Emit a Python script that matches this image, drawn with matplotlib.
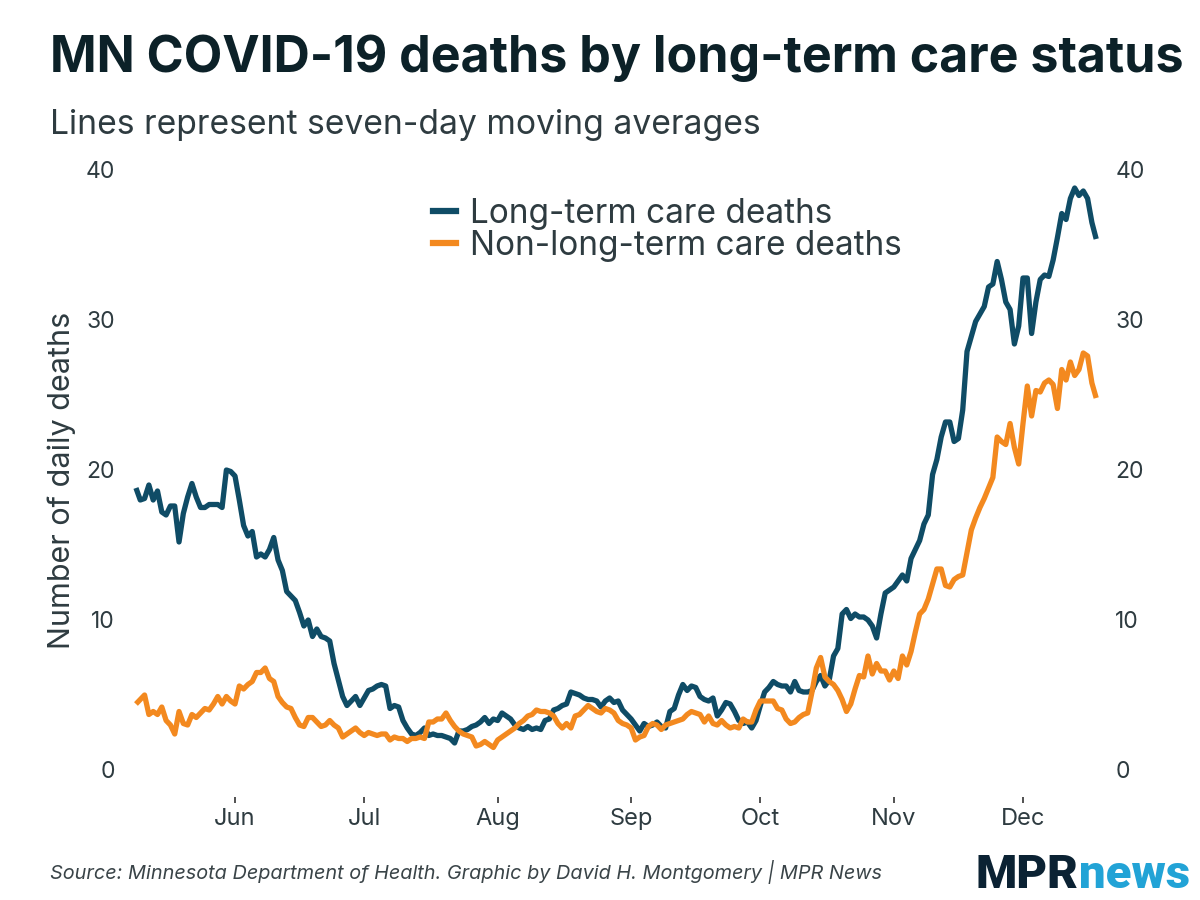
import matplotlib
matplotlib.use("Agg")
import matplotlib.pyplot as plt
import matplotlib.dates as mdates
from matplotlib.lines import Line2D
import pandas as pd
import numpy as np

start_date = "2020-05-09"

ltc_deaths = [
    18.8, 18.0, 18.1, 19.0, 18.0, 18.6, 17.2, 17.0, 17.6, 17.6,
    15.2, 17.1, 18.2, 19.1, 18.2, 17.5, 17.5, 17.7, 17.7, 17.7,
    17.5, 20.0, 19.9, 19.6, 18.0, 16.3, 15.6, 15.9, 14.2, 14.4,
    14.2, 14.7, 15.5, 14.0, 13.3, 11.9, 11.6, 11.3, 10.5, 9.6,
    10.0, 8.9, 9.4, 8.9, 8.8, 8.6, 7.1, 6.0, 4.9, 4.3,
    4.6, 4.9, 4.3, 4.8, 5.3, 5.4, 5.6, 5.7, 5.6, 4.1,
    4.3, 4.2, 3.3, 2.8, 2.4, 2.3, 2.5, 2.8, 2.3, 2.4,
    2.3, 2.3, 2.2, 2.1, 1.8, 2.6, 2.6, 2.7, 2.9, 3.0,
    3.2, 3.5, 3.1, 3.4, 3.3, 3.8, 3.6, 3.4, 3.0, 2.8,
    2.7, 2.9, 2.7, 2.8, 2.7, 3.3, 3.4, 4.0, 4.1, 4.3,
    4.4, 5.2, 5.1, 5.0, 4.8, 4.7, 4.7, 4.6, 4.2, 4.6,
    4.8, 4.5, 4.6, 4.0, 3.7, 3.4, 3.0, 2.6, 3.1, 2.9,
    3.0, 3.2, 2.9, 2.8, 3.9, 4.1, 5.0, 5.7, 5.3, 5.6,
    5.5, 4.9, 4.7, 4.6, 4.8, 3.6, 4.0, 4.5, 4.4, 3.9,
    3.3, 3.1, 3.2, 2.8, 3.3, 4.3, 5.2, 5.5, 5.9, 5.7,
    5.6, 5.6, 5.2, 5.9, 5.3, 5.2, 5.2, 5.3, 5.9, 6.3,
    5.6, 6.0, 7.6, 8.1, 10.4, 10.7, 10.1, 10.4, 10.2, 10.2,
    10.0, 9.6, 8.8, 10.4, 11.8, 12.0, 12.2, 12.6, 13.0, 12.6,
    14.1, 14.7, 15.3, 16.4, 17.0, 19.7, 20.7, 22.2, 23.2, 23.2,
    21.9, 22.1, 24.0, 27.9, 28.9, 29.9, 30.4, 30.9, 32.2, 32.4,
    33.9, 32.7, 31.2, 30.7, 28.4, 29.6, 32.8, 32.8, 29.1, 31.2,
    32.7, 33.0, 32.9, 34.0, 35.5, 37.1, 36.7, 38.1, 38.8, 38.3,
    38.6, 38.1, 36.5, 35.4,
]

non_ltc_deaths = [
    4.4, 4.7, 5.0, 3.7, 3.9, 3.7, 4.2, 3.3, 3.0, 2.4,
    3.9, 3.1, 3.0, 3.7, 3.5, 3.8, 4.1, 4.0, 4.4, 4.9,
    4.4, 4.9, 4.6, 4.4, 5.6, 5.4, 5.7, 5.9, 6.5, 6.5,
    6.8, 6.1, 5.9, 4.9, 4.5, 4.2, 4.1, 3.5, 3.0, 2.9,
    3.5, 3.5, 3.2, 2.9, 3.0, 3.3, 3.0, 2.8, 2.2, 2.4,
    2.6, 2.8, 2.5, 2.3, 2.5, 2.4, 2.3, 2.4, 2.4, 2.0,
    2.2, 2.1, 2.1, 1.9, 2.1, 2.1, 2.2, 2.1, 3.2, 3.2,
    3.4, 3.4, 3.8, 3.3, 2.9, 2.6, 2.4, 2.3, 2.2, 1.6,
    1.7, 1.9, 1.7, 1.5, 2.0, 2.2, 2.4, 2.6, 2.8, 3.1,
    3.3, 3.6, 3.7, 4.0, 3.9, 3.9, 3.8, 3.6, 3.1, 2.8,
    3.1, 2.8, 3.6, 3.7, 4.0, 4.3, 4.1, 3.9, 3.8, 4.1,
    4.0, 3.8, 3.3, 3.1, 3.0, 2.8, 2.0, 2.2, 2.3, 2.9,
    3.1, 3.0, 2.7, 3.0, 3.1, 3.2, 3.3, 3.4, 3.7, 3.9,
    3.8, 3.7, 3.2, 3.6, 3.1, 3.0, 3.3, 3.0, 2.8, 2.9,
    2.8, 3.4, 3.2, 3.2, 4.0, 4.6, 4.6, 4.6, 4.6, 4.1,
    4.0, 3.4, 3.1, 3.2, 3.5, 3.7, 3.8, 5.2, 6.8, 7.5,
    6.2, 5.9, 5.7, 5.3, 4.7, 3.9, 4.4, 5.4, 6.3, 6.2,
    7.6, 6.4, 7.1, 6.6, 6.6, 6.0, 6.6, 6.1, 7.6, 7.0,
    7.9, 9.2, 10.4, 10.7, 11.4, 12.4, 13.4, 13.4, 12.3, 12.2,
    12.7, 12.9, 13.0, 14.5, 16.0, 16.8, 17.5, 18.1, 18.8, 19.5,
    22.2, 21.9, 21.7, 23.1, 21.5, 20.4, 23.1, 25.6, 23.6, 25.3,
    25.2, 25.8, 26.0, 25.7, 24.1, 26.7, 26.0, 27.2, 26.3, 26.7,
    27.8, 27.6, 25.8, 24.8,
]

series_labels = ["Long-term care deaths", "Non-long-term care deaths"]
month_labels = ["Jun", "Jul", "Aug", "Sep", "Oct", "Nov", "Dec"]
y_ticks = [0, 10, 20, 30, 40]

n = min(len(ltc_deaths), len(non_ltc_deaths))
dates = pd.date_range(start_date, periods=n, freq="D")

BLUE = "#0f4c66"
ORANGE = "#f3891f"
TITLE_C = "#0c2128"
TEXT_C = "#2e3b40"
FONT = ["Inter", "DejaVu Sans"]
plt.rcParams["font.family"] = FONT

fig = plt.figure(figsize=(12, 9), dpi=100, facecolor="white")
W, H = 1200, 900
ax_l, ax_r, ax_t, ax_b = 130, 1100, 170, 797
ax = fig.add_axes([ax_l / W, 1 - ax_b / H, (ax_r - ax_l) / W, (ax_b - ax_t) / H])

ax.plot(dates[:n], non_ltc_deaths[:n], color=ORANGE, lw=3.8, solid_joinstyle="round", solid_capstyle="butt", zorder=3)
ax.plot(dates[:n], ltc_deaths[:n], color=BLUE, lw=3.8, solid_joinstyle="round", solid_capstyle="butt", zorder=2)

px_per_day = (1023 - 235) / 183.0
jun1 = mdates.date2num(pd.Timestamp("2020-06-01"))
left = jun1 - (235 - ax_l) / px_per_day
right = left + (ax_r - ax_l) / px_per_day
ax.set_xlim(left, right)
ax.set_ylim(-1.8, 40)

month_pos = [mdates.date2num(pd.Timestamp(f"2020-{m:02d}-01")) for m in range(6, 13)]
ax.set_xticks(month_pos)
ax.set_xticklabels(month_labels)
ax.set_yticks(y_ticks)
ax.set_yticklabels([str(v) for v in y_ticks])

for s in ax.spines.values():
    s.set_visible(False)
ax.tick_params(axis="x", length=4, width=1.2, color="#333333", pad=4, labelsize=17, labelcolor=TEXT_C)
ax.tick_params(axis="y", length=0, pad=11, labelsize=16.5, labelcolor=TEXT_C,
               labelleft=True, labelright=True)

fig.text(62 / W, 1 - 480 / H, "Number of daily deaths", rotation=90,
         fontsize=22, color=TEXT_C, ha="center", va="center")

handles = [Line2D([0], [0], color=BLUE, lw=4.5), Line2D([0], [0], color=ORANGE, lw=4.5)]
leg = fig.legend(handles, series_labels, loc="upper left",
                 bbox_to_anchor=(433 / W, 1 - 198 / H), bbox_transform=fig.transFigure,
                 frameon=False, fontsize=24, handlelength=0.7, handletextpad=0.42,
                 labelspacing=0.0, borderpad=0, borderaxespad=0)
for t in leg.get_texts():
    t.set_color(TEXT_C)

fig.text(50 / W, 1 - 72 / H, "MN COVID-19 deaths by long-term care status",
         fontsize=36.1, fontweight="bold", color=TITLE_C, ha="left", va="baseline")
fig.text(50 / W, 1 - 134 / H, "Lines represent seven-day moving averages",
         fontsize=24.2, color=TEXT_C, ha="left", va="baseline")
fig.text(50 / W, 1 - 879 / H,
         "Source: Minnesota Department of Health. Graphic by David H. Montgomery | MPR News",
         fontsize=14.3, style="italic", color="#3a4448", ha="left", va="baseline")

LOGO_F = ["Roboto", "DejaVu Sans"]
t1 = fig.text(975 / W, 1 - 888 / H, "MPR", fontsize=34, fontweight="black",
              color="#0b2233", ha="left", va="baseline", family=LOGO_F)
fig.canvas.draw()
bb = t1.get_window_extent()
fig.text((bb.x1 + 1) / W, 1 - 888 / H, "news", fontsize=34, fontweight="black",
         color="#22a3d6", ha="left", va="baseline", family=LOGO_F)

fig.savefig("out.png", dpi=100, facecolor="white")
